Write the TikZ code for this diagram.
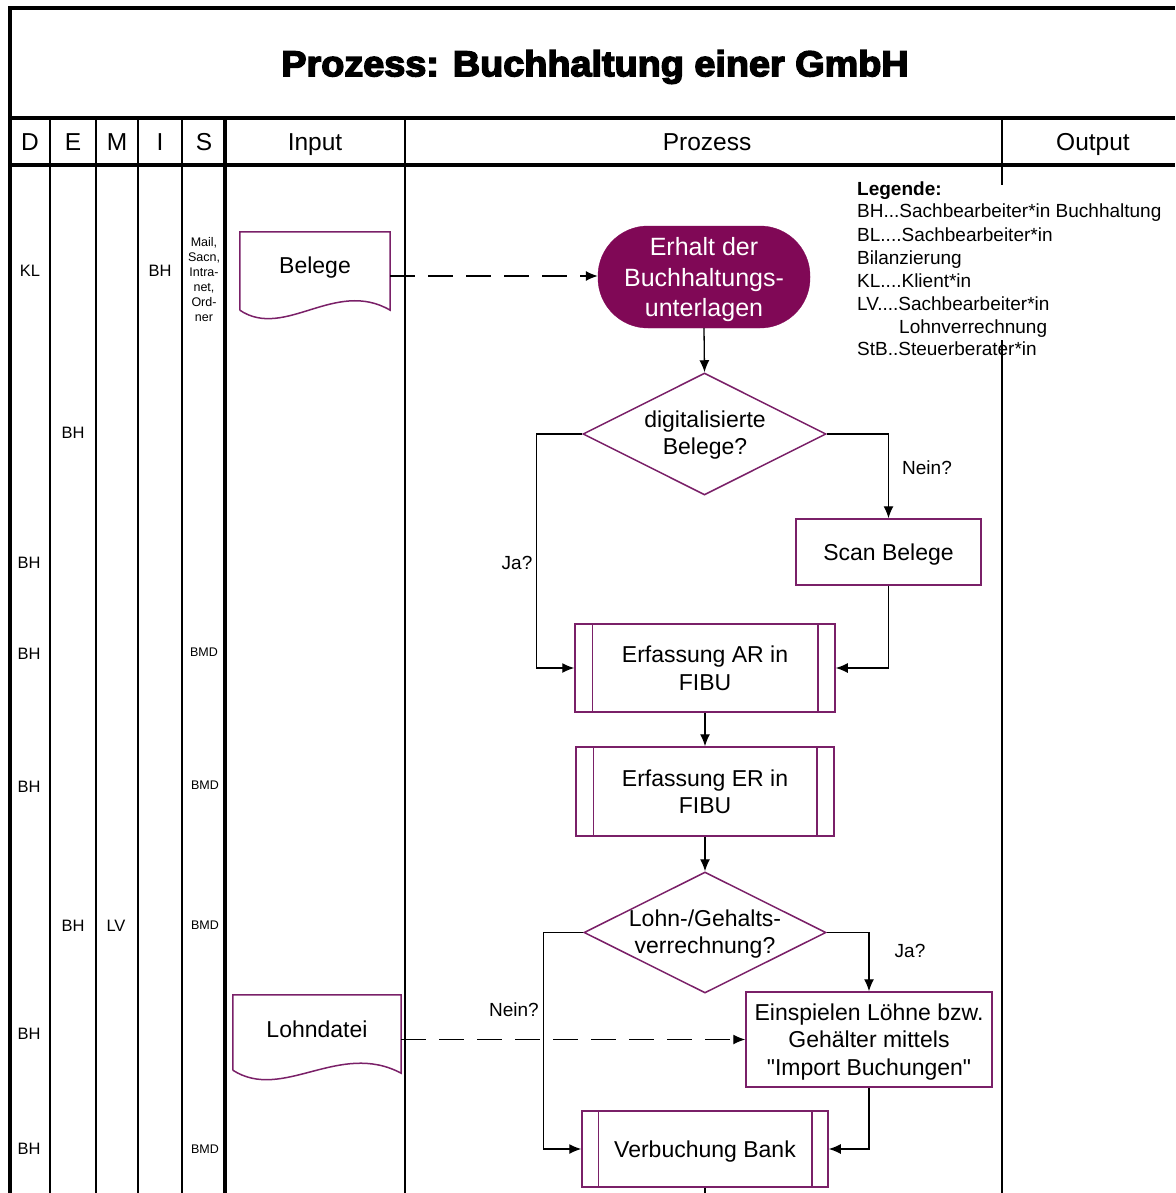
\documentclass[tikz,border=0pt]{standalone}
\usepackage{fontspec}
\setmainfont{Liberation Sans}
\newfontfamily\titlefont{Liberation Sans}[BoldFeatures={FakeBold=4}]
\usetikzlibrary{arrows.meta,shapes.geometric}
\definecolor{boxcol}{RGB}{122,32,104}
\definecolor{startfill}{RGB}{128,8,86}
\begin{document}
\begin{tikzpicture}[x=1pt,y=-1pt,
  frame/.style={line width=3.2pt},
  colline/.style={line width=1.8pt},
  flow/.style={line width=1.3pt},
  conn/.style={flow,-{Latex[length=12pt,width=10pt]}},
  dashconn/.style={conn,dash pattern=on 25pt off 13pt},
  hdr/.style={font=\fontsize{24.5}{28}\selectfont,inner sep=0pt,anchor=base},
  role/.style={font=\fontsize{16.5}{19}\selectfont,inner sep=0pt},
  sys/.style={font=\fontsize{12.5}{15}\selectfont,align=center,inner sep=0pt},
  branch/.style={font=\fontsize{19}{22}\selectfont,inner sep=0pt},
  legend/.style={font=\fontsize{19}{22}\selectfont,inner sep=0pt,anchor=base west},
  box/.style={draw=boxcol,line width=1.5pt,align=center,inner sep=0pt,text depth=0pt,
    font=\fontsize{23}{27.5}\selectfont},
  startbox/.style={fill=startfill,draw=startfill,rounded corners=50pt,text=white,
    align=center,inner sep=0pt,text depth=0pt,font=\fontsize{25}{30.5}\selectfont,
    minimum width=212pt,minimum height=102pt},
  decision/.style={draw=boxcol,line width=1.5pt,shape=diamond,inner sep=0pt},
  dectext/.style={align=center,inner sep=0pt,font=\fontsize{23}{27.5}\selectfont},
  docnode/.style={inner sep=0pt,font=\fontsize{23}{27.5}\selectfont}
]
\useasboundingbox (0,0) rectangle (1175,1193);

% ---- table frame ----
\draw[frame] (10,1193) -- (10,8) -- (1175,8);
\draw[frame] (10,118) -- (1175,118);
\draw[frame] (10,165) -- (1175,165);
\draw[colline] (50,118) -- (50,1193);
\draw[line width=1.5pt] (96,118) -- (96,1193);
\draw[colline] (138,118) -- (138,1193);
\draw[colline] (182,118) -- (182,1193);
\draw[frame] (225,118) -- (225,1193);
\draw[line width=2.4pt] (405,118) -- (405,1193);
\draw[colline] (1002,118) -- (1002,185);
\draw[colline] (1002,340) -- (1002,1193);

% ---- title and header row ----
\node (title) at (595,67)
  {\scalebox{1.05}[1]{\titlefont\bfseries\fontsize{36}{40}\selectfont Prozess: Buchhaltung einer GmbH}};
\node[hdr] (hD) at (30,151) {D};
\node[hdr] (hE) at (73,151) {E};
\node[hdr] (hM) at (117,151) {M};
\node[hdr] (hI) at (160,151) {I};
\node[hdr] (hS) at (204,151) {S};
\node[hdr] (hIn) at (315,151) {Input};
\node[hdr] (hPr) at (707,151) {Prozess};
\node[hdr] (hOut) at (1093,151) {Output};

% ---- legend ----
\node[legend] (lg0) at (857,195) {\bfseries Legende:};
\node[legend] (lg1) at (857,218) {BH...Sachbearbeiter*in Buchhaltung};
\node[legend] (lg2) at (857,241) {BL....Sachbearbeiter*in};
\node[legend] (lg3) at (857,264) {Bilanzierung};
\node[legend] (lg4) at (857,287) {KL....Klient*in};
\node[legend] (lg5) at (857,310) {LV....Sachbearbeiter*in};
\node[legend] (lg6) at (899,333) {Lohnverrechnung};
\node[legend] (lg7) at (857,355) {StB..Steuerberater*in};

% ---- roles and systems ----
\node[role] (r1d) at (30,271) {KL};
\node[role] (r1i) at (160,271) {BH};
\node[sys] (r1s) at (204,280) {Mail,\\Sacn,\\Intra-\\net,\\Ord-\\ner};
\node[role] (r2e) at (73,433) {BH};
\node[role] (r3d) at (29,563) {BH};
\node[role] (r4d) at (29,654) {BH};
\node[sys] (r4s) at (204,652) {BMD};
\node[role] (r5d) at (29,787) {BH};
\node[sys] (r5s) at (205,785) {BMD};
\node[role] (r6e) at (73,926) {BH};
\node[role] (r6m) at (116,926) {LV};
\node[sys] (r6s) at (205,925) {BMD};
\node[role] (r7d) at (29,1034) {BH};
\node[role] (r8d) at (29,1149) {BH};
\node[sys] (r8s) at (205,1149) {BMD};

% ---- input documents ----
\node[docnode,minimum width=150pt,minimum height=88pt] (belege) at (315,276)
  {\raisebox{3pt}[0pt][0pt]{Belege}};
\draw[draw=boxcol,line width=1.5pt]
  ([yshift=10pt]belege.south west) -- (belege.north west) -- (belege.north east)
  -- ([yshift=10pt]belege.south east)
  .. controls +(-55,-32) and +(45,30) .. ([yshift=10pt]belege.south west);

\node[docnode,minimum width=168pt,minimum height=89pt] (lohn) at (317,1039.5)
  {\raisebox{2.5pt}[0pt][0pt]{Lohndatei}};
\draw[draw=boxcol,line width=1.5pt]
  ([yshift=14pt]lohn.south west) -- (lohn.north west) -- (lohn.north east)
  -- ([yshift=11pt]lohn.south east)
  .. controls +(-62,-33) and +(50,32) .. ([yshift=14pt]lohn.south west);

% ---- process steps ----
\node[startbox] (erhalt) at (704,277) {Erhalt der\\Buchhaltungs-\\unterlagen};

\node[decision,minimum width=243pt,minimum height=122pt] (dia1) at (704.5,434) {};
\node[dectext] (dia1t) at (705,435) {digitalisierte\\Belege?};

\node[box,minimum width=185pt,minimum height=66pt] (scan) at (888.5,552) {Scan Belege};

\node[box,minimum width=260pt,minimum height=88pt] (ar) at (705,668) {Erfassung AR in\\FIBU};
\draw[draw=boxcol,line width=1.5pt] ([xshift=18pt]ar.north west) -- ([xshift=18pt]ar.south west)
  ([xshift=-18pt]ar.north east) -- ([xshift=-18pt]ar.south east);

\node[box,minimum width=258pt,minimum height=89pt] (er) at (705,791.5) {Erfassung ER in\\FIBU};
\draw[draw=boxcol,line width=1.5pt] ([xshift=18pt]er.north west) -- ([xshift=18pt]er.south west)
  ([xshift=-18pt]er.north east) -- ([xshift=-18pt]er.south east);

\node[decision,minimum width=242pt,minimum height=121pt] (dia2) at (705,932.5) {};
\node[dectext] (dia2t) at (705,934) {Lohn-/Gehalts-\\verrechnung?};

\node[box,minimum width=246pt,minimum height=95pt] (einsp) at (869,1039.5)
  {Einspielen Löhne bzw.\\Gehälter mittels\\\textquotedbl Import Buchungen\textquotedbl};

\node[box,minimum width=246pt,minimum height=76pt] (bank) at (705,1149) {Verbuchung Bank};
\draw[draw=boxcol,line width=1.5pt] ([xshift=17pt]bank.north west) -- ([xshift=17pt]bank.south west)
  ([xshift=-17pt]bank.north east) -- ([xshift=-17pt]bank.south east);

\coordinate (bankout) at (705,1196);

% ---- connectors ----
\draw[dashconn] (belege.east) -- (belege.east -| erhalt.west);
\draw[conn] (erhalt.south) -- (dia1.north);
\draw[conn] (dia1.west) -- ++(-46,0) |- (ar.west);
\draw[conn] (dia1.east) -| (scan.north);
\draw[conn] (scan.south) |- (ar.east);
\draw[conn] (ar.south) -- (er.north);
\draw[conn] (er.south) -- (dia2.north);
\draw[conn] (dia2.east) -| (einsp.north);
\draw[conn] (dia2.west) -- ++(-40,0) |- (bank.west);
\draw[dashconn] (lohn.east) -- (lohn.east -| einsp.west);
\draw[conn] (einsp.south) |- (bank.east);
\draw[flow] (bank.south) -- (bankout);

% ---- branch labels ----
\node[branch] (lja1) at (517,563) {Ja?};
\node[branch] (lnein1) at (927,468) {Nein?};
\node[branch] (lja2) at (910,951) {Ja?};
\node[branch] (lnein2) at (514,1010) {Nein?};
\end{tikzpicture}
\end{document}
